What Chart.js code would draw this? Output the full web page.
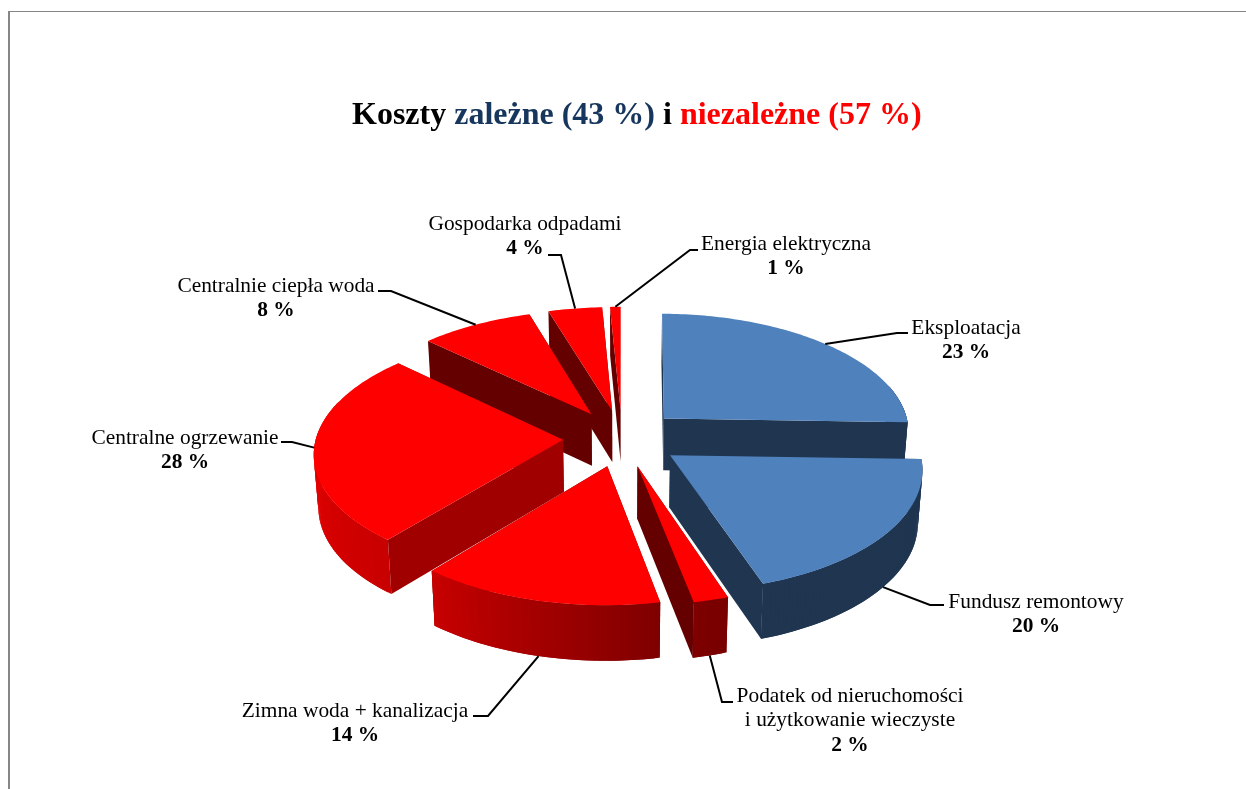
<!DOCTYPE html>
<html>
<head>
<meta charset="utf-8">
<title>Koszty</title>
<script src="https://cdn.jsdelivr.net/npm/chart.js@4"></script>
<style>
  html, body { margin: 0; padding: 0; background: #fff; overflow: hidden; }
  #frame { position: absolute; left: 8px; top: 11px; width: 1300px; height: 900px;
           border-top: 1px solid #868686; border-left: 2px solid #868686; }
  #pie { position: absolute; left: 0; top: 0; }
</style>
</head>
<body>
<div id="frame"></div>
<canvas id="pie" width="1246" height="789"></canvas>
<script>
const categories = ['Eksploatacja', 'Fundusz remontowy', 'Podatek od nieruchomości\ni użytkowanie wieczyste',
  'Zimna woda + kanalizacja', 'Centralne ogrzewanie', 'Centralnie ciepła woda', 'Gospodarka odpadami', 'Energia elektryczna'];
const shares = [23, 20, 2, 14, 28, 8, 4, 1];

// styles per slice
const topColors = ['#4f81bd', '#4f81bd', '#ff0000', '#ff0000', '#ff0000', '#ff0000', '#ff0000', '#ff0000'];
const wallColors = ['#1f3550', '#1f3550', '#640000', '#640000', '#a00000', '#640000', '#640000', '#640000'];

// label placement: text centre, first line y, elbow of the leader line, end of the leader line
const labelX = [966, 1036, 850, 355, 185, 276, 525, 786];
const labelY = [328, 602, 696, 711, 438, 286, 224, 244];
const elbowX = [897, 930, 722, 488, 292, 391, 561, 690];
const elbowY = [333, 605, 702, 716, 442, 291, 255, 250];
const tailX = [908, 944, 733, 473, 281, 378, 548, 698];
const lineHeight = 24.5;

// the view: excel's 3d pie squashes and skews slices, this is a rough fit of that camera
const squash = 0.482, perspective = 0.1, depth = 52, baseShrink = 0.985;
// small angle correction (degrees) at each slice boundary
const viewSkew = [0.5, 9, 6.7, 6.8, 7, 0, 1, 0.8, 0];

const rad = Math.PI / 180;

function project(arc, u, v, low) {
  // u, v in radius units on the pie plane, low = true for the underside
  const w = 1 + perspective * v;
  const R = arc.outerRadius;
  const k = low ? baseShrink : 1;
  return {
    x: arc.x + k * R * u / w,
    y: arc.y - R * squash * v / w + (low ? depth / Math.sqrt(w) : 0)
  };
}

function sliceGeometry(arc, i) {
  const start = arc.startAngle + Math.PI / 2 + viewSkew[i] * rad;
  const end = arc.endAngle + Math.PI / 2 + viewSkew[i + 1] * rad;
  const mid = (start + end) / 2;
  const off = arc.options.offset / arc.outerRadius;
  return { start, end, mid, u0: off * Math.sin(mid), v0: off * Math.cos(mid) };
}

function rimPoint(arc, g, a, low) {
  return project(arc, g.u0 + Math.sin(a), g.v0 + Math.cos(a), low);
}

function fillPoly(ctx, pts, color) {
  ctx.beginPath();
  pts.forEach((p, n) => n ? ctx.lineTo(p.x, p.y) : ctx.moveTo(p.x, p.y));
  ctx.closePath();
  ctx.fillStyle = color;
  ctx.fill();
}

function rimColor(i, a) {
  if (i < 2) return '#1f3550';
  const deg = ((a / rad) % 360 + 360) % 360;
  // dark towards the front right, bright on the left
  let red = 122;
  if (deg > 165) red = deg < 219 ? 122 + (deg - 165) * 78 / 54 : Math.min(228, 200 + (deg - 219) * 28 / 51);
  return 'rgb(' + Math.round(red) + ',0,0)';
}

function drawSlice(ctx, arc, i) {
  const g = sliceGeometry(arc, i);
  const apexTop = project(arc, g.u0, g.v0, false);
  const apexLow = project(arc, g.u0, g.v0, true);
  const wall = (a) => [apexTop, rimPoint(arc, g, a, false), rimPoint(arc, g, a, true), apexLow];

  // walls facing away go first, then the rim, then the walls facing us
  const startFront = Math.sin(g.start) < 0;
  const endFront = Math.sin(g.end) > 0;
  if (!startFront) fillPoly(ctx, wall(g.start), wallColors[i]);
  if (!endFront) fillPoly(ctx, wall(g.end), wallColors[i]);

  const steps = Math.max(4, Math.ceil((g.end - g.start) / rad));
  const step = (g.end - g.start) / steps;
  const top = [apexTop];
  for (let n = 0; n <= steps; n++) {
    const a = g.start + step * n;
    top.push(rimPoint(arc, g, a, false));
  }
  // each strip overlaps the next one, no seams
  for (let n = 0; n < steps; n++) {
    const a = g.start + step * n;
    const b = Math.min(g.end, a + step * 2);
    if (Math.cos(a) < 0.3) {
      fillPoly(ctx, [rimPoint(arc, g, a, false), rimPoint(arc, g, b, false),
        rimPoint(arc, g, b, true), rimPoint(arc, g, a, true)], rimColor(i, a));
    }
  }
  if (startFront) fillPoly(ctx, wall(g.start), wallColors[i]);
  if (endFront) fillPoly(ctx, wall(g.end), wallColors[i]);
  fillPoly(ctx, top, arc.options.backgroundColor);
}

function drawLeader(ctx, arc, i) {
  const g = sliceGeometry(arc, i);
  const front = Math.cos(g.mid) < 0;
  const p = rimPoint(arc, g, g.mid, front && Math.abs(Math.sin(g.mid)) < 0.95);
  ctx.beginPath();
  ctx.moveTo(p.x, p.y);
  ctx.lineTo(elbowX[i], elbowY[i]);
  ctx.lineTo(tailX[i], elbowY[i]);
  ctx.strokeStyle = '#000';
  ctx.lineWidth = 2;
  ctx.stroke();
}

function drawLabel(ctx, i) {
  ctx.textAlign = 'center';
  ctx.textBaseline = 'middle';
  ctx.fillStyle = '#000';
  const lines = categories[i].split('\n');
  ctx.font = '21.4px "Liberation Serif"';
  lines.forEach((t, n) => ctx.fillText(t, labelX[i], labelY[i] + n * lineHeight));
  ctx.font = 'bold 21.4px "Liberation Serif"';
  ctx.fillText(shares[i] + ' %', labelX[i], labelY[i] + lines.length * lineHeight);
}

function drawTitle(ctx) {
  const parts = [['Koszty ', '#000000'], ['zależne (43 %) ', '#17365d'], ['i ', '#000000'],
    ['niezależne (57 %)', '#ff0000']];
  ctx.font = 'bold 32px "Liberation Serif"';
  ctx.textAlign = 'left';
  ctx.textBaseline = 'alphabetic';
  let x = 352;
  parts.forEach(([t, c]) => {
    ctx.fillStyle = c;
    ctx.fillText(t, x, 124);
    x += ctx.measureText(t).width;
  });
}

const pie3d = {
  id: 'pie3d',
  beforeDatasetDraw(chart, args) {
    const ctx = chart.ctx;
    const arcs = chart.getDatasetMeta(args.index).data;
    // back to front
    const order = arcs.map((a, i) => i)
      .sort((a, b) => Math.cos(sliceGeometry(arcs[b], b).mid) - Math.cos(sliceGeometry(arcs[a], a).mid));
    order.forEach(i => drawSlice(ctx, arcs[i], i));
    return false;
  },
  afterDraw(chart) {
    const ctx = chart.ctx;
    const arcs = chart.getDatasetMeta(0).data;
    arcs.forEach((a, i) => drawLeader(ctx, a, i));
    arcs.forEach((a, i) => drawLabel(ctx, i));
    drawTitle(ctx);
  }
};

new Chart(document.getElementById('pie'), {
  type: 'pie',
  data: {
    labels: categories,
    datasets: [{ data: shares, backgroundColor: topColors, borderWidth: 0, offset: 59, radius: 247 }]
  },
  options: {
    responsive: false,
    animation: false,
    layout: { padding: { top: 87, right: 2 } },
    plugins: { legend: { display: false }, tooltip: { enabled: false } }
  },
  plugins: [pie3d]
});
</script>
</body>
</html>
